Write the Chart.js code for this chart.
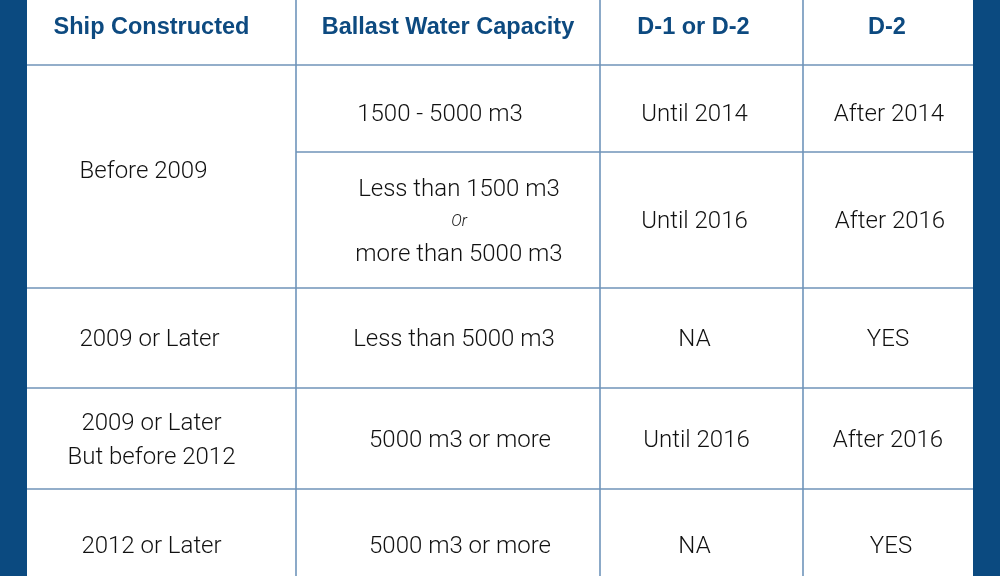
<!DOCTYPE html>
<html>
<head>
    <title>Ballast Water Standards</title>
    <script src="https://cdn.jsdelivr.net/npm/chart.js"></script>
    <style>
        html, body { margin: 0; padding: 0; background: #0b4a80; }
        #tableChart { display: block; }
    </style>
</head>
<body>
<canvas id="tableChart" width="1000" height="576"></canvas>
<script>
    // Contenido de la tabla
    const headers = ['Ship Constructed', 'Ballast Water Capacity', 'D-1 or D-2', 'D-2'];
    const constructed = ['Before 2009', '2009 or Later', '2009 or Later\nBut before 2012', '2012 or Later'];
    const constructedSpan = [2, 1, 1, 1];
    const capacity = ['1500 - 5000 m3', 'Less than 1500 m3\nOr\nmore than 5000 m3', 'Less than 5000 m3', '5000 m3 or more', '5000 m3 or more'];
    const d1OrD2 = ['Until 2014', 'Until 2016', 'NA', 'Until 2016', 'NA'];
    const d2Only = ['After 2014', 'After 2016', 'YES', 'After 2016', 'YES'];

    // Layout (unidades de la escala)
    const colWidths = [269, 304, 203, 170];
    const rowHeights = [65, 87, 136, 100, 101, 111];
    const colShift = [[-18, -12, -10, -10], [-8, 11, 6, 12, 12], [-7, -7, -7, -5, -7], [1, 2, 0, 0, 3]];
    const headShift = [-10, 0, -8, -1];

    const lineColor = '#4e7cab';
    const headColor = '#0d4a80';
    const textColor = '#111111';
    const bodyFont = '300 24px Roboto, "Liberation Sans", sans-serif';
    const orFont = 'italic 300 16px Roboto, "Liberation Sans", sans-serif';
    const headFont = 'bold 23.5px "Liberation Sans", Arial, sans-serif';

    function cum(arr) {
        let out = [0];
        arr.forEach(v => out.push(out[out.length - 1] + v));
        return out;
    }

    const colEdges = cum(colWidths);
    const rowEdges = cum(rowHeights);

    function drawLines(ctx, text, cx, cy, lineH) {
        let lines = text.split('\n');
        let start = cy - (lines.length - 1) * lineH / 2;
        lines.forEach((line, i) => {
            ctx.font = line === 'Or' ? orFont : bodyFont;
            ctx.fillText(line, cx, start + i * lineH);
        });
    }

    const tablePlugin = {
        id: 'tablePlugin',
        beforeDraw(chart) {
            const ctx = chart.ctx;
            const x = chart.scales.x;
            const y = chart.scales.y;
            const px = v => x.getPixelForValue(v);
            const py = v => y.getPixelForValue(v);

            // Fondo blanco de la tabla
            ctx.save();
            ctx.fillStyle = '#ffffff';
            ctx.beginPath();
            ctx.roundRect(px(0), py(-8), px(colEdges[4]) - px(0), py(rowEdges[6]) - py(-8), 8);
            ctx.fill();

            // Lineas verticales
            ctx.strokeStyle = lineColor;
            ctx.lineWidth = 1.3;
            for (let c = 1; c < 4; c++) {
                ctx.beginPath();
                ctx.moveTo(px(colEdges[c]), py(-8));
                ctx.lineTo(px(colEdges[c]), py(rowEdges[6]));
                ctx.stroke();
            }

            // Lineas horizontales
            ctx.strokeStyle = '#6f93b9';
            ctx.lineWidth = 1.6;
            for (let r = 1; r < 6; r++) {
                let startCol = r === 2 ? 1 : 0;
                ctx.beginPath();
                ctx.moveTo(px(colEdges[startCol]), py(rowEdges[r]));
                ctx.lineTo(px(colEdges[4]), py(rowEdges[r]));
                ctx.stroke();
            }

            ctx.textAlign = 'center';
            ctx.textBaseline = 'middle';

            // Encabezados
            ctx.fillStyle = headColor;
            ctx.font = headFont;
            headers.forEach((h, c) => {
                let cx = px((colEdges[c] + colEdges[c + 1]) / 2) + headShift[c];
                ctx.fillText(h, cx, py((rowEdges[0] + rowEdges[1]) / 2) - 5);
            });

            // Primera columna (con celdas combinadas)
            ctx.fillStyle = textColor;
            let r = 1;
            constructed.forEach((t, i) => {
                let top = rowEdges[r];
                let bottom = rowEdges[r + constructedSpan[i]];
                let cx = px((colEdges[0] + colEdges[1]) / 2) + colShift[0][i];
                let cy = py((top + bottom) / 2) + 2 + (constructedSpan[i] > 1 ? -7 : 0);
                drawLines(ctx, t, cx, cy, 34);
                r += constructedSpan[i];
            });

            // Resto de columnas
            [capacity, d1OrD2, d2Only].forEach((col, k) => {
                let c = k + 1;
                col.forEach((t, i) => {
                    let cx = px((colEdges[c] + colEdges[c + 1]) / 2) + colShift[c][i];
                    let cy = py((rowEdges[i + 1] + rowEdges[i + 2]) / 2) + 2 + (i === 0 ? 4 : 0);
                    drawLines(ctx, t, cx, cy, 32.5);
                });
            });
            ctx.restore();
        }
    };

    new Chart(document.getElementById('tableChart'), {
        type: 'scatter',
        data: { datasets: [] },
        options: {
            responsive: false,
            animation: false,
            layout: { padding: { left: 27, right: 27, top: 0, bottom: 0 } },
            scales: {
                x: { type: 'linear', min: 0, max: colEdges[4], display: false },
                y: { type: 'linear', min: 0, max: 576, reverse: true, display: false }
            },
            plugins: {
                legend: { display: false },
                tooltip: { enabled: false }
            }
        },
        plugins: [tablePlugin]
    });
</script>
</body>
</html>
